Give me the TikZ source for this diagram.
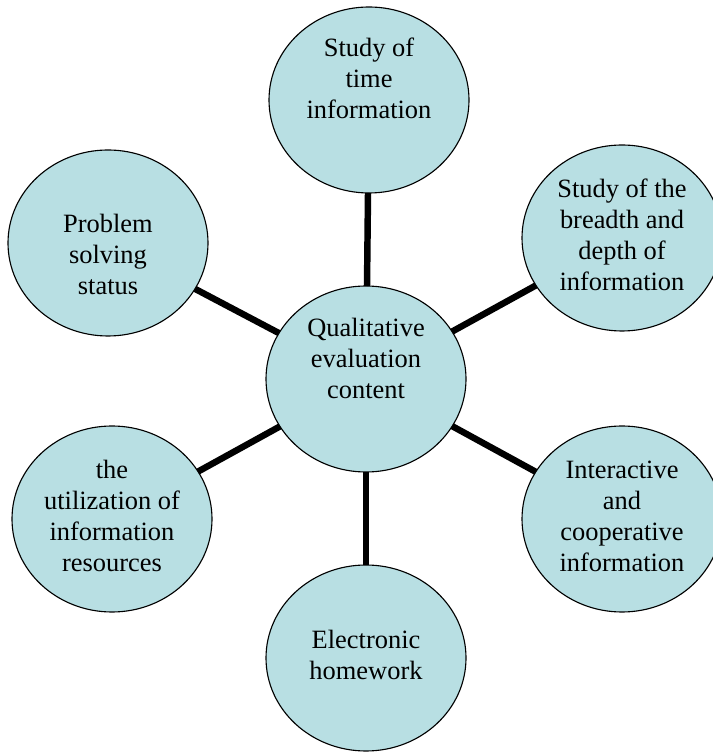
\documentclass[tikz,border=0pt]{standalone}
\usepackage{fontspec}
\setmainfont{Liberation Serif}
\usetikzlibrary{shapes.geometric}
\definecolor{bubblefill}{RGB}{184,223,227}
\newcommand{\bubbletext}[2]{\raisebox{#1}[\height][\depth]{\begin{tabular}{@{}c@{}}#2\end{tabular}}}
\begin{document}
\begin{tikzpicture}[inner sep=0pt,outer sep=0pt,
bubble/.style={draw,ellipse,fill=bubblefill,line width=0.8pt,minimum width=5cm,minimum height=4.65cm,font=\fontsize{18.8pt}{22pt}\selectfont},
spoke/.style={line width=4.6pt}]
\useasboundingbox (0,0) rectangle (17.8,18.825);
\draw (9.15,9.35) node[bubble] (content) {\bubbletext{0.45cm}{Qualitative\\evaluation\\content}};
\draw (9.225,16.325) node[bubble] (time) {\bubbletext{0.47cm}{Study of\\time\\information}};
\draw (15.55,12.875) node[bubble] (breadth) {\bubbletext{0cm}{Study of the\\breadth and\\depth of\\information}};
\draw (15.55,5.85) node[bubble] (interact) {\bubbletext{0cm}{Interactive\\and\\cooperative\\information}};
\draw (9.15,2.375) node[bubble] (homework) {\bubbletext{0cm}{Electronic\\homework}};
\draw (2.8,5.85) node[bubble] (resources) {\bubbletext{0cm}{the\\utilization of\\information\\resources}};
\draw (2.7,12.75) node[bubble] (problem) {\bubbletext{-0.35cm}{Problem\\solving\\status}};

\draw[spoke] (content) -- (time);
\draw[spoke] (content) -- (breadth);
\draw[spoke] (content) -- (interact);
\draw[spoke] (content) -- (homework);
\draw[spoke] (content) -- (resources);
\draw[spoke] (content) -- (problem);
\end{tikzpicture}
\end{document}
